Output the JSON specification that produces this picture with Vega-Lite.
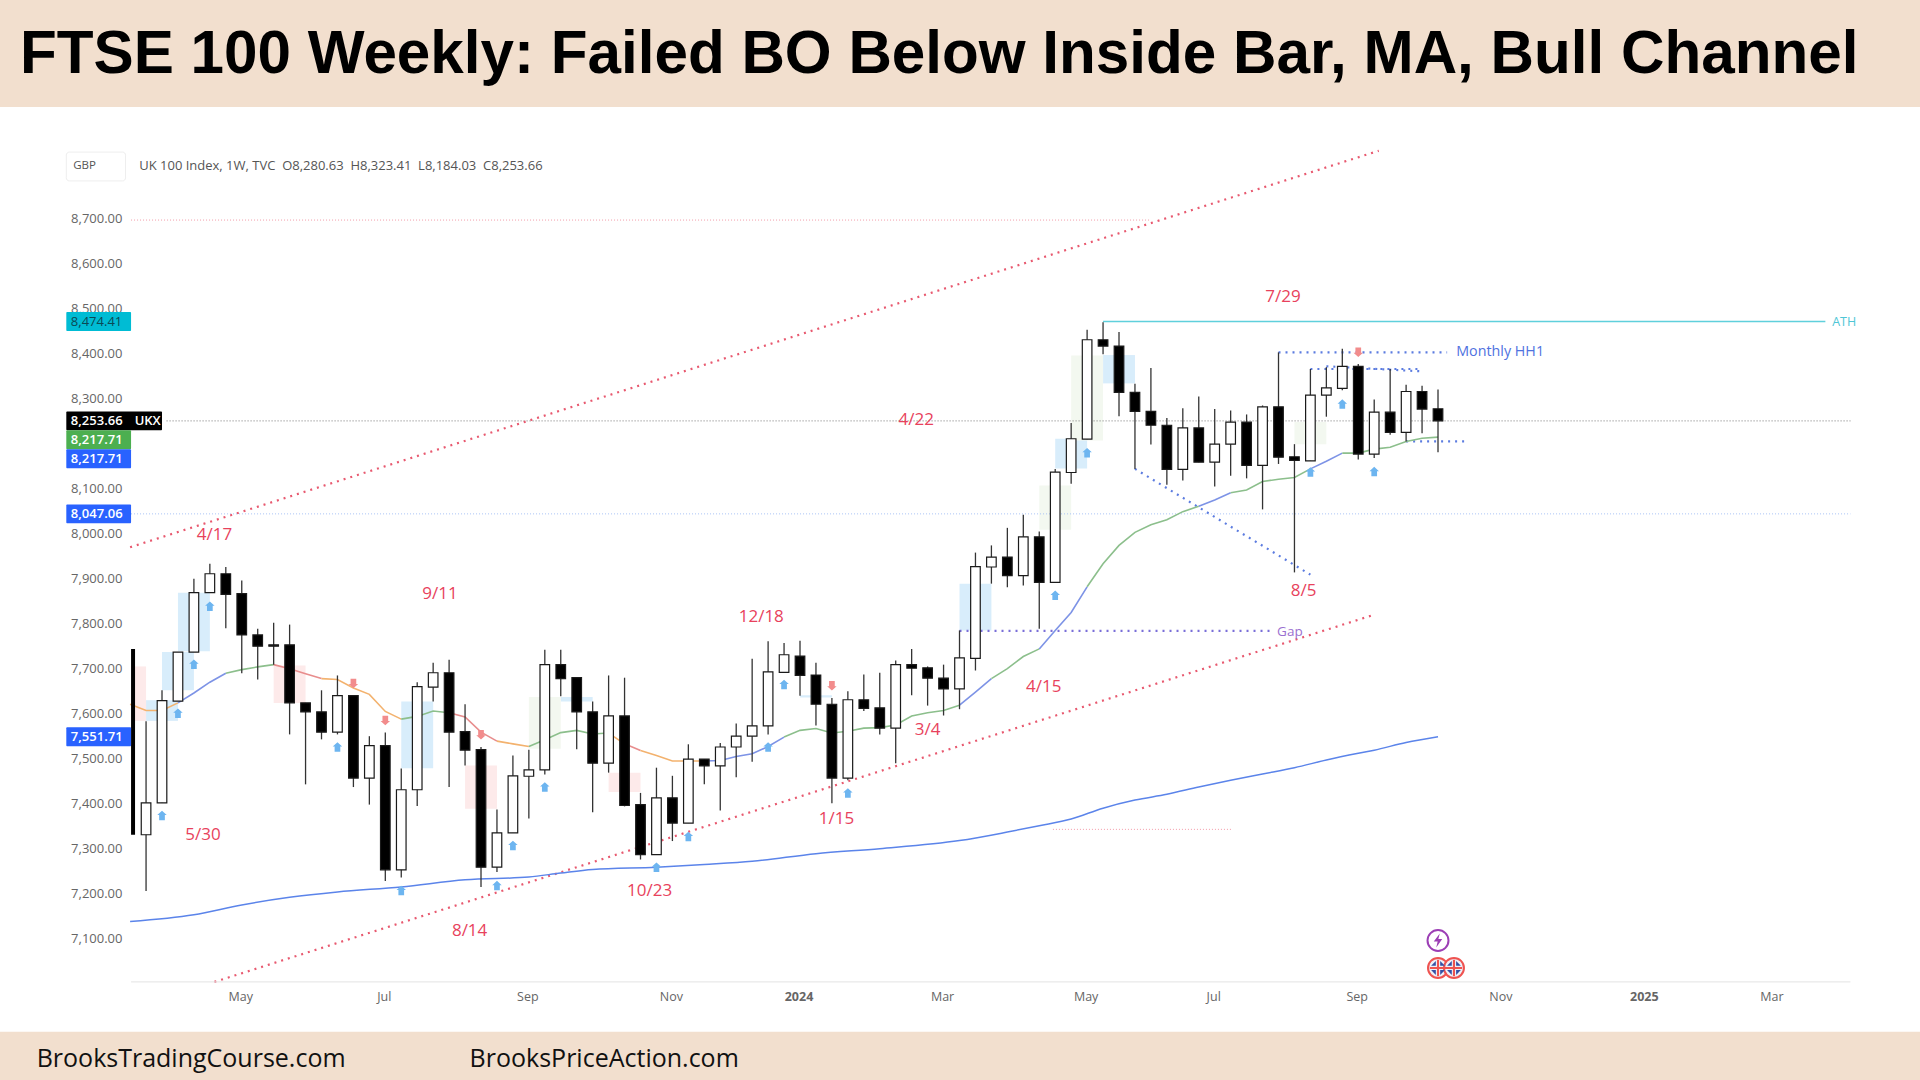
{
"$schema":"https://vega.github.io/schema/vega-lite/v6.json",
"width":1920,"height":1080,"padding":0,
"autosize":{"type":"fit","contains":"padding"},
"background":"#ffffff",
"config":{"view":{"stroke":null}},
"datasets":{
"bands":[
{"date":"2023-01-14T21:36:00Z","date2":"2025-05-06T12:46:00Z","price":9189,"price2":8951},
{"date":"2023-01-14T21:36:00Z","date2":"2025-05-06T12:46:00Z","price":6896,"price2":6789}],
"boxes":[
{"date":"2023-03-20","date2":"2023-04-03","price":7633,"price2":7587,"tone":"boxBlue"},
{"date":"2023-03-27","date2":"2023-04-10","price":7740,"price2":7655,"tone":"boxBlue"},
{"date":"2023-04-03","date2":"2023-04-17","price":7872,"price2":7742,"tone":"boxBlue"},
{"date":"2023-07-10","date2":"2023-07-24","price":7630,"price2":7482,"tone":"boxBlue"},
{"date":"2023-09-18","date2":"2023-10-02","price":7640,"price2":7630,"tone":"boxBlue"},
{"date":"2024-01-01","date2":"2024-01-15","price":7644,"price2":7639,"tone":"boxBlue"},
{"date":"2024-03-11","date2":"2024-03-25","price":7892,"price2":7788,"tone":"boxBlue"},
{"date":"2024-04-22","date2":"2024-05-06","price":8214,"price2":8148,"tone":"boxBlue"},
{"date":"2024-05-13","date2":"2024-05-27","price":8400,"price2":8337,"tone":"boxBlue"},
{"date":"2023-03-13T10:00:00Z","date2":"2023-03-20","price":7708,"price2":7587,"tone":"boxPink"},
{"date":"2023-05-15","date2":"2023-05-29","price":7710,"price2":7627,"tone":"boxPink"},
{"date":"2023-08-07","date2":"2023-08-21","price":7488,"price2":7392,"tone":"boxPink"},
{"date":"2023-10-09","date2":"2023-10-23","price":7472,"price2":7429,"tone":"boxPink"},
{"date":"2023-09-04","date2":"2023-09-18","price":7640,"price2":7525,"tone":"boxGreen"},
{"date":"2024-04-15","date2":"2024-04-29","price":8110,"price2":8012,"tone":"boxGreen"},
{"date":"2024-04-29","date2":"2024-05-13","price":8399,"price2":8210,"tone":"boxGreen"},
{"date":"2024-08-05","date2":"2024-08-19","price":8251,"price2":8202,"tone":"boxGreen"}],
"hairlines":[
{"date":"2023-03-13T10:00:00Z","price":8700,"seg":"a","tone":"hairRed"},{"date":"2024-06-03","price":8700,"seg":"a","tone":"hairRed"},
{"date":"2023-03-29","price":8253.66,"seg":"b","tone":"hairGrey"},{"date":"2025-04-06","price":8253.66,"seg":"b","tone":"hairGrey"},
{"date":"2023-03-13T10:00:00Z","price":8047.06,"seg":"c","tone":"hairBlue"},{"date":"2025-04-06","price":8047.06,"seg":"c","tone":"hairBlue"},
{"date":"2024-04-21","price":7346,"seg":"d","tone":"hairRed"},{"date":"2024-07-09","price":7346,"seg":"d","tone":"hairRed"}],
"channels":[
{"date":"2023-03-13","price":7973,"seg":"upper"},{"date":"2024-09-11","price":8854,"seg":"upper"},
{"date":"2023-04-19","price":7007,"seg":"lower"},{"date":"2024-09-09","price":7823,"seg":"lower"}],
"blueDots":[
{"date":"2024-07-29","price":8406,"seg":"monthly"},{"date":"2024-10-11","price":8406,"seg":"monthly"},
{"date":"2024-08-12","price":8369,"seg":"hiA"},{"date":"2024-09-29","price":8369,"seg":"hiA"},
{"date":"2024-08-19","price":8375,"seg":"hiB"},{"date":"2024-09-29","price":8364,"seg":"hiB"},
{"date":"2024-09-23","price":8208,"seg":"low"},{"date":"2024-10-20","price":8208,"seg":"low"},
{"date":"2024-05-27","price":8147,"seg":"down"},{"date":"2024-08-12","price":7912,"seg":"down"}],
"gapDots":[{"date":"2024-03-11","price":7787},{"date":"2024-07-27","price":7787}],
"ath":[{"date":"2024-05-13","price":8474.41},{"date":"2025-03-26","price":8474.41}],
"axisLine":[{"date":"2023-03-13T10:00:00Z","date2":"2025-04-06","price":7007}],
"ema":[
{"date":"2023-03-13","price":7624,"seg":"s1","tone":"orange"},{"date":"2023-03-20","price":7610,"seg":"s1","tone":"orange"},{"date":"2023-03-27","price":7610,"seg":"s1","tone":"orange"},{"date":"2023-04-03","price":7627,"seg":"s1","tone":"orange"},
{"date":"2023-04-03","price":7627,"seg":"s2","tone":"blue"},{"date":"2023-04-10","price":7649,"seg":"s2","tone":"blue"},{"date":"2023-04-17","price":7673,"seg":"s2","tone":"blue"},{"date":"2023-04-24","price":7693,"seg":"s2","tone":"blue"},
{"date":"2023-04-24","price":7693,"seg":"s3","tone":"green"},{"date":"2023-05-01","price":7701,"seg":"s3","tone":"green"},{"date":"2023-05-08","price":7707,"seg":"s3","tone":"green"},{"date":"2023-05-15","price":7712,"seg":"s3","tone":"green"},
{"date":"2023-05-15","price":7712,"seg":"s4","tone":"red"},{"date":"2023-05-22","price":7703,"seg":"s4","tone":"red"},{"date":"2023-05-29","price":7692,"seg":"s4","tone":"red"},{"date":"2023-06-05","price":7681,"seg":"s4","tone":"red"},
{"date":"2023-06-05","price":7681,"seg":"s5","tone":"orange"},{"date":"2023-06-12","price":7679,"seg":"s5","tone":"orange"},{"date":"2023-06-19","price":7660,"seg":"s5","tone":"orange"},{"date":"2023-06-26","price":7646,"seg":"s5","tone":"orange"},{"date":"2023-07-03","price":7608,"seg":"s5","tone":"orange"},{"date":"2023-07-10","price":7591,"seg":"s5","tone":"orange"},
{"date":"2023-07-10","price":7591,"seg":"s6","tone":"green"},{"date":"2023-07-17","price":7597,"seg":"s6","tone":"green"},{"date":"2023-07-24","price":7609,"seg":"s6","tone":"green"},{"date":"2023-07-31","price":7605,"seg":"s6","tone":"green"},
{"date":"2023-07-31","price":7605,"seg":"s7","tone":"red"},{"date":"2023-08-07","price":7596,"seg":"s7","tone":"red"},{"date":"2023-08-14","price":7562,"seg":"s7","tone":"red"},{"date":"2023-08-21","price":7542,"seg":"s7","tone":"red"},
{"date":"2023-08-21","price":7542,"seg":"s8","tone":"orange"},{"date":"2023-08-28","price":7536,"seg":"s8","tone":"orange"},{"date":"2023-09-04","price":7530,"seg":"s8","tone":"orange"},
{"date":"2023-09-04","price":7530,"seg":"s9","tone":"green"},{"date":"2023-09-11","price":7545,"seg":"s9","tone":"green"},{"date":"2023-09-18","price":7561,"seg":"s9","tone":"green"},{"date":"2023-09-25","price":7566,"seg":"s9","tone":"green"},{"date":"2023-10-02","price":7558,"seg":"s9","tone":"green"},{"date":"2023-10-09","price":7560,"seg":"s9","tone":"green"},
{"date":"2023-10-09","price":7560,"seg":"s10","tone":"orange"},{"date":"2023-10-16","price":7536,"seg":"s10","tone":"orange"},
{"date":"2023-10-16","price":7536,"seg":"s11","tone":"red"},{"date":"2023-10-23","price":7521,"seg":"s11","tone":"red"},
{"date":"2023-10-23","price":7521,"seg":"s12","tone":"orange"},{"date":"2023-10-30","price":7510,"seg":"s12","tone":"orange"},{"date":"2023-11-06","price":7498,"seg":"s12","tone":"orange"},{"date":"2023-11-13","price":7498,"seg":"s12","tone":"orange"},{"date":"2023-11-20","price":7498,"seg":"s12","tone":"orange"},
{"date":"2023-11-20","price":7498,"seg":"s13","tone":"blue"},{"date":"2023-11-27","price":7499,"seg":"s13","tone":"blue"},{"date":"2023-12-04","price":7508,"seg":"s13","tone":"blue"},{"date":"2023-12-11","price":7514,"seg":"s13","tone":"blue"},{"date":"2023-12-18","price":7530,"seg":"s13","tone":"blue"},{"date":"2023-12-25","price":7551,"seg":"s13","tone":"blue"},
{"date":"2023-12-25","price":7551,"seg":"s14","tone":"green"},{"date":"2024-01-01","price":7566,"seg":"s14","tone":"green"},{"date":"2024-01-08","price":7570,"seg":"s14","tone":"green"},{"date":"2024-01-15","price":7560,"seg":"s14","tone":"green"},{"date":"2024-01-22","price":7564,"seg":"s14","tone":"green"},{"date":"2024-01-29","price":7571,"seg":"s14","tone":"green"},{"date":"2024-02-05","price":7572,"seg":"s14","tone":"green"},{"date":"2024-02-12","price":7578,"seg":"s14","tone":"green"},{"date":"2024-02-19","price":7598,"seg":"s14","tone":"green"},{"date":"2024-02-26","price":7605,"seg":"s14","tone":"green"},{"date":"2024-03-04","price":7610,"seg":"s14","tone":"green"},{"date":"2024-03-11","price":7622,"seg":"s14","tone":"green"},
{"date":"2024-03-11","price":7622,"seg":"s15","tone":"blue"},{"date":"2024-03-18","price":7651,"seg":"s15","tone":"blue"},{"date":"2024-03-25","price":7681,"seg":"s15","tone":"blue"},
{"date":"2024-03-25","price":7681,"seg":"s16","tone":"green"},{"date":"2024-04-01","price":7703,"seg":"s16","tone":"green"},{"date":"2024-04-08","price":7730,"seg":"s16","tone":"green"},{"date":"2024-04-15","price":7747,"seg":"s16","tone":"green"},
{"date":"2024-04-15","price":7747,"seg":"s17","tone":"blue"},{"date":"2024-04-22","price":7788,"seg":"s17","tone":"blue"},{"date":"2024-04-29","price":7828,"seg":"s17","tone":"blue"},{"date":"2024-05-06","price":7885,"seg":"s17","tone":"blue"},
{"date":"2024-05-06","price":7885,"seg":"s18","tone":"green"},{"date":"2024-05-13","price":7936,"seg":"s18","tone":"green"},{"date":"2024-05-20","price":7977,"seg":"s18","tone":"green"},{"date":"2024-05-27","price":8006,"seg":"s18","tone":"green"},{"date":"2024-06-03","price":8023,"seg":"s18","tone":"green"},{"date":"2024-06-10","price":8034,"seg":"s18","tone":"green"},{"date":"2024-06-17","price":8052,"seg":"s18","tone":"green"},{"date":"2024-06-24","price":8064,"seg":"s18","tone":"green"},
{"date":"2024-06-24","price":8064,"seg":"s19","tone":"blue"},{"date":"2024-07-01","price":8078,"seg":"s19","tone":"blue"},{"date":"2024-07-08","price":8094,"seg":"s19","tone":"blue"},
{"date":"2024-07-08","price":8094,"seg":"s20","tone":"green"},{"date":"2024-07-15","price":8100,"seg":"s20","tone":"green"},{"date":"2024-07-22","price":8119,"seg":"s20","tone":"green"},{"date":"2024-07-29","price":8124,"seg":"s20","tone":"green"},{"date":"2024-08-05","price":8128,"seg":"s20","tone":"green"},{"date":"2024-08-12","price":8147,"seg":"s20","tone":"green"},
{"date":"2024-08-12","price":8147,"seg":"s21","tone":"blue"},{"date":"2024-08-19","price":8164,"seg":"s21","tone":"blue"},{"date":"2024-08-26","price":8182,"seg":"s21","tone":"blue"},
{"date":"2024-08-26","price":8182,"seg":"s22","tone":"green"},{"date":"2024-09-02","price":8182,"seg":"s22","tone":"green"},{"date":"2024-09-09","price":8191,"seg":"s22","tone":"green"},{"date":"2024-09-16","price":8195,"seg":"s22","tone":"green"},{"date":"2024-09-23","price":8208,"seg":"s22","tone":"green"},{"date":"2024-09-30","price":8215,"seg":"s22","tone":"green"},{"date":"2024-10-07","price":8217.71,"seg":"s22","tone":"green"}],
"longMa":[
{"date":"2023-03-13","price":7141},{"date":"2023-04-10","price":7156},{"date":"2023-05-01","price":7178},{"date":"2023-05-22","price":7195},{"date":"2023-06-12","price":7207},{"date":"2023-07-10","price":7218},{"date":"2023-08-07","price":7234},{"date":"2023-09-04","price":7240},{"date":"2023-09-18","price":7249},{"date":"2023-10-02","price":7257},{"date":"2023-10-30","price":7262},{"date":"2023-11-20","price":7268},{"date":"2023-12-11","price":7275},{"date":"2024-01-08","price":7292},{"date":"2024-02-05","price":7303},{"date":"2024-03-11","price":7321},{"date":"2024-04-01","price":7340},{"date":"2024-04-15","price":7354},{"date":"2024-04-29","price":7369},{"date":"2024-05-13","price":7393},{"date":"2024-05-27","price":7411},{"date":"2024-06-10","price":7424},{"date":"2024-06-24","price":7440},{"date":"2024-07-08","price":7455},{"date":"2024-07-22","price":7469},{"date":"2024-08-05","price":7483},{"date":"2024-08-19","price":7500},{"date":"2024-09-02","price":7515},{"date":"2024-09-09","price":7522},{"date":"2024-09-23","price":7539},{"date":"2024-10-07","price":7551.71}],
"clipped":[{"date":"2023-03-13T10:00:00Z","date2":"2023-03-15T04:00:00Z","price":7747,"price2":7334}],
"candles":[
{"date":"2023-03-20","open":7334,"high":7586,"low":7209,"close":7405},
{"date":"2023-03-27","open":7405,"high":7655,"low":7405,"close":7632},
{"date":"2023-04-03","open":7631,"high":7740,"low":7631,"close":7740},
{"date":"2023-04-10","open":7740,"high":7903,"low":7740,"close":7872},
{"date":"2023-04-17","open":7872,"high":7936,"low":7872,"close":7914},
{"date":"2023-04-24","open":7914,"high":7929,"low":7793,"close":7868},
{"date":"2023-05-01","open":7870,"high":7899,"low":7693,"close":7778},
{"date":"2023-05-08","open":7778,"high":7792,"low":7679,"close":7753},
{"date":"2023-05-15","open":7756,"high":7805,"low":7712,"close":7753},
{"date":"2023-05-22","open":7756,"high":7801,"low":7557,"close":7627},
{"date":"2023-05-29","open":7627,"high":7627,"low":7446,"close":7607},
{"date":"2023-06-05","open":7607,"high":7655,"low":7546,"close":7562},
{"date":"2023-06-12","open":7562,"high":7688,"low":7557,"close":7643},
{"date":"2023-06-19","open":7643,"high":7643,"low":7440,"close":7460},
{"date":"2023-06-26","open":7460,"high":7553,"low":7401,"close":7532},
{"date":"2023-07-03","open":7532,"high":7561,"low":7231,"close":7256},
{"date":"2023-07-10","open":7256,"high":7481,"low":7239,"close":7434},
{"date":"2023-07-17","open":7434,"high":7673,"low":7398,"close":7663},
{"date":"2023-07-24","open":7662,"high":7716,"low":7630,"close":7694},
{"date":"2023-07-31","open":7694,"high":7723,"low":7440,"close":7562},
{"date":"2023-08-07","open":7563,"high":7624,"low":7488,"close":7522},
{"date":"2023-08-14","open":7523,"high":7529,"low":7218,"close":7262},
{"date":"2023-08-21","open":7262,"high":7390,"low":7251,"close":7338},
{"date":"2023-08-28","open":7338,"high":7510,"low":7338,"close":7465},
{"date":"2023-09-04","open":7464,"high":7523,"low":7370,"close":7478},
{"date":"2023-09-11","open":7478,"high":7745,"low":7468,"close":7712},
{"date":"2023-09-18","open":7712,"high":7745,"low":7642,"close":7681},
{"date":"2023-09-25","open":7683,"high":7684,"low":7524,"close":7607},
{"date":"2023-10-02","open":7607,"high":7630,"low":7384,"close":7493},
{"date":"2023-10-09","open":7493,"high":7688,"low":7472,"close":7598},
{"date":"2023-10-16","open":7598,"high":7683,"low":7397,"close":7399},
{"date":"2023-10-23","open":7401,"high":7427,"low":7279,"close":7290},
{"date":"2023-10-30","open":7290,"high":7483,"low":7290,"close":7416},
{"date":"2023-11-06","open":7416,"high":7465,"low":7320,"close":7360},
{"date":"2023-11-13","open":7360,"high":7535,"low":7360,"close":7502},
{"date":"2023-11-20","open":7502,"high":7502,"low":7446,"close":7487},
{"date":"2023-11-27","open":7487,"high":7538,"low":7388,"close":7529},
{"date":"2023-12-04","open":7529,"high":7581,"low":7462,"close":7553},
{"date":"2023-12-11","open":7553,"high":7725,"low":7496,"close":7576},
{"date":"2023-12-18","open":7576,"high":7764,"low":7557,"close":7696},
{"date":"2023-12-25","open":7695,"high":7760,"low":7695,"close":7734},
{"date":"2024-01-01","open":7731,"high":7765,"low":7643,"close":7688},
{"date":"2024-01-08","open":7689,"high":7716,"low":7577,"close":7624},
{"date":"2024-01-15","open":7624,"high":7638,"low":7404,"close":7460},
{"date":"2024-01-22","open":7460,"high":7653,"low":7455,"close":7634},
{"date":"2024-01-29","open":7634,"high":7690,"low":7609,"close":7615},
{"date":"2024-02-05","open":7616,"high":7694,"low":7557,"close":7571},
{"date":"2024-02-12","open":7571,"high":7721,"low":7493,"close":7712},
{"date":"2024-02-19","open":7712,"high":7747,"low":7644,"close":7704},
{"date":"2024-02-26","open":7705,"high":7708,"low":7621,"close":7682},
{"date":"2024-03-04","open":7682,"high":7712,"low":7599,"close":7658},
{"date":"2024-03-11","open":7658,"high":7788,"low":7613,"close":7727},
{"date":"2024-03-18","open":7726,"high":7961,"low":7699,"close":7930},
{"date":"2024-03-25","open":7929,"high":7977,"low":7892,"close":7951},
{"date":"2024-04-01","open":7951,"high":8016,"low":7884,"close":7910},
{"date":"2024-04-08","open":7910,"high":8045,"low":7888,"close":7996},
{"date":"2024-04-15","open":7996,"high":8008,"low":7792,"close":7895},
{"date":"2024-04-22","open":7895,"high":8147,"low":7895,"close":8140},
{"date":"2024-04-29","open":8139,"high":8249,"low":8114,"close":8214},
{"date":"2024-05-06","open":8213,"high":8456,"low":8213,"close":8434},
{"date":"2024-05-13","open":8434,"high":8473,"low":8402,"close":8420},
{"date":"2024-05-20","open":8420,"high":8451,"low":8264,"close":8317},
{"date":"2024-05-27","open":8317,"high":8336,"low":8147,"close":8275},
{"date":"2024-06-03","open":8275,"high":8371,"low":8201,"close":8244},
{"date":"2024-06-10","open":8244,"high":8260,"low":8112,"close":8146},
{"date":"2024-06-17","open":8146,"high":8282,"low":8121,"close":8238},
{"date":"2024-06-24","open":8238,"high":8308,"low":8162,"close":8162},
{"date":"2024-07-01","open":8162,"high":8280,"low":8108,"close":8202},
{"date":"2024-07-08","open":8202,"high":8277,"low":8132,"close":8251},
{"date":"2024-07-15","open":8251,"high":8268,"low":8126,"close":8155},
{"date":"2024-07-22","open":8155,"high":8288,"low":8057,"close":8285},
{"date":"2024-07-29","open":8285,"high":8406,"low":8158,"close":8173},
{"date":"2024-08-05","open":8174,"high":8202,"low":7917,"close":8166},
{"date":"2024-08-12","open":8165,"high":8369,"low":8165,"close":8311},
{"date":"2024-08-19","open":8311,"high":8373,"low":8263,"close":8327},
{"date":"2024-08-26","open":8326,"high":8414,"low":8322,"close":8375},
{"date":"2024-09-02","open":8375,"high":8380,"low":8168,"close":8180},
{"date":"2024-09-09","open":8180,"high":8301,"low":8171,"close":8273},
{"date":"2024-09-16","open":8273,"high":8369,"low":8223,"close":8228},
{"date":"2024-09-23","open":8228,"high":8334,"low":8208,"close":8319},
{"date":"2024-09-30","open":8319,"high":8332,"low":8226,"close":8280},
{"date":"2024-10-07","open":8280.63,"high":8323.41,"low":8184.03,"close":8253.66}],
"upMarks":[
{"date":"2023-03-27","price":7377},{"date":"2023-04-03","price":7604},{"date":"2023-04-10","price":7713},{"date":"2023-04-17","price":7842},{"date":"2023-06-12","price":7529},{"date":"2023-07-10","price":7210},{"date":"2023-08-21","price":7221},{"date":"2023-08-28","price":7310},{"date":"2023-09-11","price":7440},{"date":"2023-10-30","price":7262},{"date":"2023-11-13","price":7330},{"date":"2023-12-18","price":7529},{"date":"2023-12-25","price":7668},{"date":"2024-01-22","price":7427},{"date":"2024-04-22","price":7866},{"date":"2024-05-06","price":8183},{"date":"2024-08-12","price":8140},{"date":"2024-08-26","price":8291},{"date":"2024-09-09","price":8141}],
"downMarks":[
{"date":"2023-06-19","price":7670},{"date":"2023-07-03","price":7588},{"date":"2023-08-14","price":7556},{"date":"2024-01-15","price":7665},{"date":"2024-09-02","price":8406}],
"dateNotes":[
{"date":"2023-04-19","price":8001,"note":"4/17"},{"date":"2023-04-14","price":7333,"note":"5/30"},{"date":"2023-07-27","price":7868,"note":"9/11"},{"date":"2023-08-09","price":7120,"note":"8/14"},{"date":"2023-10-27","price":7210,"note":"10/23"},{"date":"2023-12-15","price":7817,"note":"12/18"},{"date":"2024-01-17","price":7370,"note":"1/15"},{"date":"2024-02-26","price":7566,"note":"3/4"},{"date":"2024-04-17","price":7662,"note":"4/15"},{"date":"2024-02-21","price":8255,"note":"4/22"},{"date":"2024-07-31","price":8530,"note":"7/29"},{"date":"2024-08-09","price":7875,"note":"8/5"}],
"monthly":[{"date":"2024-10-15","price":8406,"note":"Monthly HH1"}],
"athNote":[{"date":"2025-03-29","price":8474.41,"note":"ATH"}],
"gapNote":[{"date":"2024-08-03","price":7784,"note":"Gap"}],
"titleText":[{"date":"2023-01-23T16:00:00Z","price":9066,"note":"FTSE 100 Weekly: Failed BO Below Inside Bar, MA, Bull Channel"}],
"footerText":[{"date":"2023-01-31","price":6836,"note":"BrooksTradingCourse.com"},{"date":"2023-08-09","price":6836,"note":"BrooksPriceAction.com"}],
"gbpBox":[{"date":"2023-02-13","date2":"2023-03-11","price":8851,"price2":8787}],
"gbpText":[{"date":"2023-02-16","price":8820,"note":"GBP"}],
"legendText":[{"date":"2023-03-17","price":8820,"note":"UK 100 Index, 1W, TVC\u00a0\u00a0O8,280.63\u00a0\u00a0H8,323.41\u00a0\u00a0L8,184.03\u00a0\u00a0C8,253.66"}],
"badges":[
{"date":"2023-02-13","date2":"2023-03-13T10:00:00Z","price":8495.41,"price2":8453.41,"tone":"teal"},
{"date":"2023-02-13","date2":"2023-03-27","price":8274.66,"price2":8232.66,"tone":"black"},
{"date":"2023-02-13","date2":"2023-03-13T10:00:00Z","price":8232.66,"price2":8190.71,"tone":"green"},
{"date":"2023-02-13","date2":"2023-03-13T10:00:00Z","price":8190.71,"price2":8148.71,"tone":"blue"},
{"date":"2023-02-13","date2":"2023-03-13T10:00:00Z","price":8068.06,"price2":8026.06,"tone":"blue"},
{"date":"2023-02-13","date2":"2023-03-13T10:00:00Z","price":7572.71,"price2":7530.71,"tone":"blue"}],
"badgeLight":[
{"date":"2023-02-15","price":8253.66,"note":"8,253.66"},{"date":"2023-03-15","price":8253.66,"note":"UKX"},{"date":"2023-02-15","price":8211.71,"note":"8,217.71"},{"date":"2023-02-15","price":8169.71,"note":"8,217.71"},{"date":"2023-02-15","price":8047.06,"note":"8,047.06"},{"date":"2023-02-15","price":7551.71,"note":"7,551.71"}],
"badgeDark":[{"date":"2023-02-15","price":8474.41,"note":"8,474.41"}],
"events":[{"date":"2024-10-07","price":7099}],
"flags":[{"date":"2024-10-07","price":7038},{"date":"2024-10-14","price":7038}]
},
"encoding":{
"x":{"field":"date","type":"temporal","title":null,
"scale":{"type":"utc","padding":0,"domain":[{"year":2023,"month":1,"date":14,"hours":21,"minutes":36,"utc":true},{"year":2025,"month":5,"date":6,"hours":12,"minutes":46,"utc":true}]},
"axis":{"orient":"bottom","offset":-98,"domain":false,"ticks":false,"grid":false,"labelPadding":8,"labelOffset":-1.5,"labelFont":"Open Sans","labelFontSize":12.5,"labelColor":"#666666","labelOverlap":false,"labelFlush":false,
"values":[{"year":2023,"month":5,"date":1,"utc":true},{"year":2023,"month":7,"date":3,"utc":true},{"year":2023,"month":9,"date":4,"utc":true},{"year":2023,"month":11,"date":6,"utc":true},{"year":2024,"month":1,"date":1,"utc":true},{"year":2024,"month":3,"date":4,"utc":true},{"year":2024,"month":5,"date":6,"utc":true},{"year":2024,"month":7,"date":1,"utc":true},{"year":2024,"month":9,"date":2,"utc":true},{"year":2024,"month":11,"date":4,"utc":true},{"year":2025,"month":1,"date":6,"utc":true},{"year":2025,"month":3,"date":3,"utc":true}],
"labelExpr":"utcmonth(datum.value)==0 ? utcFormat(datum.value,'%Y') : utcFormat(datum.value,'%b')",
"labelFontWeight":{"condition":{"test":"utcmonth(datum.value)==0","value":"bold"},"value":"normal"}}},
"y":{"field":"price","type":"quantitative","title":null,
"scale":{"domain":[6789,9189],"nice":false,"zero":false},
"axis":{"orient":"left","offset":-131,"domain":false,"ticks":false,"grid":false,"labelPadding":9,"labelOffset":-1.5,"labelFont":"Open Sans","labelFontSize":13,"labelColor":"#666666","labelOverlap":false,"format":",.2f",
"values":[7100,7200,7300,7400,7500,7600,7700,7800,7900,8000,8100,8300,8400,8500,8600,8700]}}
},
"layer":[
{"data":{"name":"bands"},"mark":{"type":"rect","fill":"#f2dfce"},"encoding":{"x2":{"field":"date2"},"y2":{"field":"price2"}}},
{"data":{"name":"boxes"},"mark":{"type":"rect"},"encoding":{"x2":{"field":"date2"},"y2":{"field":"price2"},"color":{"field":"tone","type":"nominal","legend":null,"scale":{"domain":["boxBlue","boxPink","boxGreen","orange","red","green","blue","hairRed","hairGrey","hairBlue"],"range":["#d8edfb","#fdeaea","#f3f8f0","#f3b26e","#e88d8d","#8cbf8c","#7d93e6","#f29aa8","#777777","#a8c2f5"]}}}},
{"data":{"name":"hairlines"},"mark":{"type":"line","strokeWidth":1,"strokeDash":[1,2]},"encoding":{"detail":{"field":"seg"},"color":{"field":"tone","type":"nominal","legend":null}}},
{"data":{"name":"channels"},"mark":{"type":"line","stroke":"#e8596f","strokeWidth":2.2,"strokeDash":[2,5]},"encoding":{"detail":{"field":"seg"}}},
{"data":{"name":"blueDots"},"mark":{"type":"line","stroke":"#5c7ce0","strokeWidth":2.2,"strokeDash":[2,5]},"encoding":{"detail":{"field":"seg"}}},
{"data":{"name":"gapDots"},"mark":{"type":"line","stroke":"#7a6fd8","strokeWidth":2.2,"strokeDash":[2,5]},"encoding":{}},
{"data":{"name":"ath"},"mark":{"type":"line","stroke":"#5fd0dc","strokeWidth":1.5},"encoding":{}},
{"data":{"name":"axisLine"},"mark":{"type":"rule","stroke":"#e3e3e3","strokeWidth":1},"encoding":{"x2":{"field":"date2"}}},
{"data":{"name":"longMa"},"mark":{"type":"line","stroke":"#5b84ea","strokeWidth":1.5,"interpolate":"monotone"},"encoding":{}},
{"data":{"name":"ema"},"mark":{"type":"line","strokeWidth":1.6},"encoding":{"detail":{"field":"seg"},"color":{"field":"tone","type":"nominal","legend":null}}},
{"data":{"name":"candles"},"mark":{"type":"rule","stroke":"#333333","strokeWidth":1.3},"encoding":{"y":{"field":"low","type":"quantitative","title":null,"scale":{"domain":[6789,9189],"nice":false,"zero":false}},"y2":{"field":"high"}}},
{"data":{"name":"candles"},"mark":{"type":"bar","size":9.6,"stroke":"#1a1a1a","strokeWidth":1.2},"encoding":{"y":{"field":"open","type":"quantitative","title":null,"scale":{"domain":[6789,9189],"nice":false,"zero":false}},"y2":{"field":"close"},"fill":{"condition":{"test":"datum.close>=datum.open","value":"#ffffff"},"value":"#000000"}}},
{"data":{"name":"clipped"},"mark":{"type":"rect","fill":"#000000"},"encoding":{"x2":{"field":"date2"},"y2":{"field":"price2"}}},
{"data":{"name":"upMarks"},"mark":{"type":"point","filled":true,"opacity":1,"fill":"#6db5f0","strokeWidth":0,"size":90,"shape":"M0,-1 L1,-0.1 L0.6,-0.1 L0.6,1 L-0.6,1 L-0.6,-0.1 L-1,-0.1 Z"},"encoding":{}},
{"data":{"name":"downMarks"},"mark":{"type":"point","filled":true,"opacity":1,"fill":"#f28c8c","strokeWidth":0,"size":90,"shape":"M0,1 L1,0.1 L0.6,0.1 L0.6,-1 L-0.6,-1 L-0.6,0.1 L-1,0.1 Z"},"encoding":{}},
{"data":{"name":"dateNotes"},"mark":{"type":"text","font":"Open Sans","fontSize":17,"fill":"#e8425c","align":"center","baseline":"middle"},"encoding":{"text":{"field":"note"}}},
{"data":{"name":"monthly"},"mark":{"type":"text","font":"Open Sans","fontSize":14.3,"fill":"#4f72df","align":"left","baseline":"middle"},"encoding":{"text":{"field":"note"}}},
{"data":{"name":"athNote"},"mark":{"type":"text","font":"Open Sans","fontSize":12.5,"fill":"#4fc6d6","align":"left","baseline":"middle"},"encoding":{"text":{"field":"note"}}},
{"data":{"name":"gapNote"},"mark":{"type":"text","font":"Open Sans","fontSize":13.5,"fill":"#9a6fd0","align":"center","baseline":"middle"},"encoding":{"text":{"field":"note"}}},
{"data":{"name":"titleText"},"mark":{"type":"text","font":"Liberation Sans","fontWeight":"bold","fontSize":60.2,"fill":"#000000","align":"left","baseline":"middle"},"encoding":{"text":{"field":"note"}}},
{"data":{"name":"footerText"},"mark":{"type":"text","font":"Open Sans","fontSize":25,"fill":"#111111","align":"left","baseline":"middle"},"encoding":{"text":{"field":"note"}}},
{"data":{"name":"gbpBox"},"mark":{"type":"rect","fill":"#ffffff","stroke":"#eeeeee","strokeWidth":1,"cornerRadius":3},"encoding":{"x2":{"field":"date2"},"y2":{"field":"price2"}}},
{"data":{"name":"gbpText"},"mark":{"type":"text","font":"Open Sans","fontSize":11.5,"fill":"#555555","align":"left","baseline":"middle"},"encoding":{"text":{"field":"note"}}},
{"data":{"name":"legendText"},"mark":{"type":"text","font":"Open Sans","fontSize":13,"fill":"#555555","align":"left","baseline":"middle"},"encoding":{"text":{"field":"note"}}},
{"data":{"name":"badges"},"mark":{"type":"rect","cornerRadius":1},"encoding":{"x2":{"field":"date2"},"y2":{"field":"price2"},"fill":{"field":"tone","type":"nominal","legend":null,"scale":{"domain":["teal","black","green","blue"],"range":["#00bcd4","#000000","#4caf50","#2962ff"]}}}},
{"data":{"name":"badgeLight"},"mark":{"type":"text","font":"Open Sans","fontSize":13,"fontWeight":600,"fill":"#ffffff","align":"left","baseline":"middle"},"encoding":{"text":{"field":"note"}}},
{"data":{"name":"badgeDark"},"mark":{"type":"text","font":"Open Sans","fontSize":13,"fill":"#0b4a55","align":"left","baseline":"middle"},"encoding":{"text":{"field":"note"}}},
{"data":{"name":"events"},"mark":{"type":"point","shape":"circle","filled":false,"stroke":"#9c3fb5","strokeWidth":2,"fill":"#ffffff","opacity":1,"size":440},"encoding":{}},
{"data":{"name":"events"},"mark":{"type":"point","filled":true,"fill":"#9c3fb5","opacity":1,"strokeWidth":0,"size":200,"shape":"M0.25,-1 L-0.6,0.15 L-0.05,0.15 L-0.25,1 L0.6,-0.2 L0.05,-0.2 Z"},"encoding":{}},
{"data":{"name":"flags"},"mark":{"type":"point","shape":"circle","filled":true,"fill":"#eef0f8","stroke":"#ef5350","strokeWidth":2,"opacity":1,"size":400},"encoding":{}},
{"data":{"name":"flags"},"mark":{"type":"point","filled":true,"fill":"#3550a5","opacity":1,"strokeWidth":0,"size":300,"shape":"M-0.8,-0.25 L-0.25,-0.25 L-0.25,-0.8 Z M0.8,-0.25 L0.25,-0.25 L0.25,-0.8 Z M-0.8,0.25 L-0.25,0.25 L-0.25,0.8 Z M0.8,0.25 L0.25,0.25 L0.25,0.8 Z"},"encoding":{}},
{"data":{"name":"flags"},"mark":{"type":"point","filled":true,"fill":"#ef5350","opacity":1,"strokeWidth":0,"size":300,"shape":"M-0.12,-0.95 L0.12,-0.95 L0.12,-0.12 L0.95,-0.12 L0.95,0.12 L0.12,0.12 L0.12,0.95 L-0.12,0.95 L-0.12,0.12 L-0.95,0.12 L-0.95,-0.12 L-0.12,-0.12 Z"},"encoding":{}}
]
}
